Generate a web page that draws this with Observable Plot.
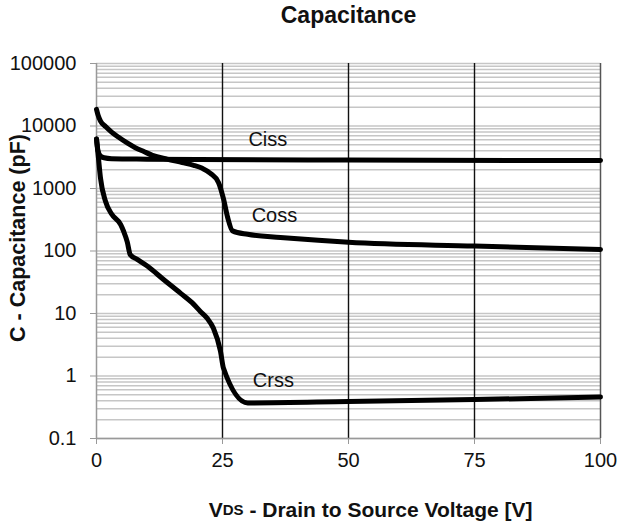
<!DOCTYPE html>
<html><head><meta charset="utf-8">
<script src="https://cdn.jsdelivr.net/npm/d3@7"></script>
<script src="https://cdn.jsdelivr.net/npm/@observablehq/plot@0.6"></script>
<style>body{margin:0;background:#fff}</style>
</head><body><div id="chart"></div>
<script>
// Series: VDS (V) and capacitance (pF)
const cissV = [0, 0.3, 0.8, 1.5, 3, 10, 20, 50, 100];
const cissC = [6200, 4000, 3300, 3100, 3000, 2950, 2900, 2850, 2800];
const cossV = [0, 0.3, 0.8, 1.8, 3, 4.4, 6, 7.7, 9.4, 11.1, 14, 17, 19.3, 21, 22.6, 24.2, 25.2, 26, 27, 30, 36.5, 44, 50, 75, 100];
const cossC = [18500, 15000, 12000, 9800, 8000, 6600, 5400, 4500, 3900, 3400, 2950, 2600, 2350, 2100, 1750, 1250, 680, 350, 210, 185, 165, 148, 138, 120, 106];
const crssV = [0, 0.4, 0.8, 1.8, 3, 4.8, 5.4, 6.1, 6.7, 8, 10, 13.3, 16.7, 19.3, 20.6, 22, 23.2, 24.6, 25.2, 30, 50, 75, 100];
const crssC = [6200, 3000, 1450, 620, 390, 265, 205, 140, 87, 74, 58, 35, 21, 14, 10.8, 8.3, 5.8, 2.5, 1.33, 0.37, 0.39, 0.42, 0.46];

// Series labels
const labelNames = ["Ciss", "Coss", "Crss"];
const labelV = [34, 35.3, 35.1];
const labelC = [5970, 370, 0.86];

// Ticks
const decades = [0.1, 1, 10, 100, 1000, 10000, 100000];
const yTickLabels = ["0.1", "1", "10", "100", "1000", "10000", "100000"];
const minorMult = [2, 3, 4, 5, 6, 7, 8, 9];
const xTicks = [0, 25, 50, 75, 100];
const xMajorGrid = [25, 50, 75];

const minor = decades.slice(0, -1).flatMap(d => minorMult.map(k => k * d));
const toRows = (name, V, C) => V.map((v, i) => ({series: name, v, c: C[i]}));
const rows = [
  ...toRows("Ciss", cissV, cissC),
  ...toRows("Coss", cossV, cossC),
  ...toRows("Crss", crssV, crssC)
];
const labels = labelNames.map((n, i) => ({n, v: labelV[i], c: labelC[i]}));
const fmt = new Map(decades.map((d, i) => [d, yTickLabels[i]]));

const font = "Arial, 'Liberation Sans', sans-serif";
const plot = Plot.plot({
  width: 618, height: 528,
  marginLeft: 96, marginRight: 18, marginTop: 63, marginBottom: 90,
  style: {fontFamily: font, fontSize: "20px", color: "#111", background: "#fff"},
  x: {domain: [0, 100]},
  y: {type: "log", domain: [0.1, 100000]},
  marks: [
    Plot.ruleY(minor, {stroke: "#c6c6c6", strokeWidth: 1.5}),
    Plot.ruleY(decades, {stroke: "#c6c6c6", strokeWidth: 1.5}),
    Plot.ruleX(xMajorGrid, {stroke: "#111", strokeWidth: 1.4}),
    Plot.ruleX([100], {stroke: "#555", strokeWidth: 1.5}),
    Plot.ruleX([0], {stroke: "#999", strokeWidth: 1.5}),
    Plot.ruleY([0.1], {stroke: "#999", strokeWidth: 1.5}),
    Plot.axisY(decades, {tickFormat: d => fmt.get(d), tickSize: 6, tickPadding: 14, stroke: "#999", fill: "#111", fontSize: 20, label: null}),
    Plot.axisX(xTicks, {tickSize: 6, tickPadding: 8, stroke: "#999", fill: "#111", fontSize: 20, label: null}),
    Plot.line(rows, {x: "v", y: "c", z: "series", stroke: "#000", strokeWidth: 5, curve: "monotone-x"}),
    Plot.text(labels, {x: "v", y: "c", text: "n", fontSize: 20, fill: "#111"}),
    Plot.text(["Capacitance"], {frameAnchor: "top", lineAnchor: "middle", dy: -48, fontSize: 23, fontWeight: "bold", fill: "#111"}),
    Plot.text(["C - Capacitance (pF)"], {frameAnchor: "left", textAnchor: "middle", rotate: -90, dx: -78, dy: -13, fontSize: 21.5, fontWeight: "bold", fill: "#111"})
  ]
});
document.getElementById("chart").append(plot);

// x axis title with small-caps subscript "DS"
const sx = plot.scale("x"), sy = plot.scale("y");
const t = d3.select(plot).append("text")
  .attr("x", sx.apply(54.5)).attr("y", sy.apply(0.1) + 73)
  .attr("text-anchor", "middle").attr("dominant-baseline", "middle")
  .attr("font-family", font).attr("font-size", 21).attr("font-weight", "bold").attr("fill", "#111");
t.append("tspan").text("V");
t.append("tspan").attr("font-size", 15).text("DS");
t.append("tspan").text(" - Drain to Source Voltage [V]");
</script></body></html>
